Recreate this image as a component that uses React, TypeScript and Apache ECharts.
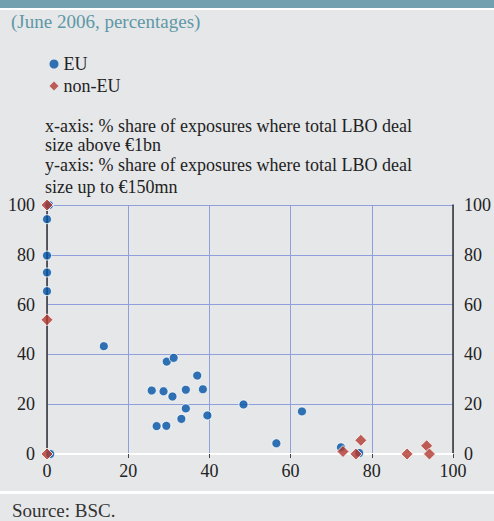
import React, { useEffect, useRef } from "react";
import * as echarts from "echarts";

const euPoints: [number, number][] = [
  [0.5, 100], [0, 94.3], [0, 79.7], [0, 72.9], [0, 65.4], [0.8, 0],
  [14.0, 43.3], [29.5, 37.1], [31.2, 38.6], [37.0, 31.5], [25.8, 25.5],
  [28.7, 25.2], [34.2, 25.8], [38.4, 26.0], [30.9, 23.1], [34.2, 18.3],
  [39.5, 15.5], [33.1, 14.1], [27.0, 11.2], [29.4, 11.3], [48.4, 19.9],
  [62.8, 17.1], [56.5, 4.3], [72.4, 2.7], [76.9, 0.4],
];
const nonEuPoints: [number, number][] = [
  [0, 100], [0, 53.9], [0, 0], [72.9, 1.0], [76.1, 0], [77.3, 5.5],
  [88.7, 0], [93.5, 3.3], [94.2, 0],
];
const seriesNames = ["EU", "non-EU"];
const subtitle = "(June 2006, percentages)";
const noteLines = [
  "x-axis: % share of exposures where total LBO deal",
  "size above €1bn",
  "y-axis: % share of exposures where total LBO deal",
  "size up to €150mn",
];
const source = "Source: BSC.";

const FONT = "Liberation Serif";

export default function App() {
  const ref = useRef<HTMLDivElement>(null);
  useEffect(() => {
    document.body.style.margin = "0";
    const chart = echarts.init(ref.current!, null, { renderer: "svg" });
    const noteY = [127, 146, 166, 188];
    chart.setOption({
      animation: false,
      backgroundColor: "#e6e7e9",
      textStyle: { fontFamily: FONT },
      grid: { left: 47, right: 39, top: 205, bottom: 67, containLabel: false },
      legend: {
        orient: "vertical",
        left: 44.5,
        top: 50,
        itemWidth: 9,
        itemHeight: 9,
        itemGap: 4,
        textStyle: { fontFamily: FONT, fontSize: 18, color: "#222" },
        data: [
          { name: seriesNames[0], icon: "circle", itemStyle: { borderWidth: 0 } },
          { name: seriesNames[1], icon: "diamond", itemStyle: { borderWidth: 0 } },
        ],
      },
      xAxis: {
        type: "value",
        min: 0,
        max: 100,
        interval: 20,
        axisLine: { show: true, lineStyle: { color: "#ffffff", width: 2 } },
        axisTick: { show: true, length: 4, lineStyle: { color: "#444", width: 1 } },
        axisLabel: { fontFamily: FONT, fontSize: 18, color: "#222", margin: 8 },
        splitLine: { show: true, lineStyle: { color: "#8f9fdb", width: 1 } },
      },
      yAxis: [
        {
          type: "value",
          min: 0,
          max: 100,
          interval: 20,
          position: "left",
          axisLine: { show: true, lineStyle: { color: "#333", width: 1.5 } },
          axisTick: { show: false },
          axisLabel: { fontFamily: FONT, fontSize: 18, color: "#222", margin: 12 },
          splitLine: { show: true, lineStyle: { color: "#8f9fdb", width: 1 } },
        },
        {
          type: "value",
          min: 0,
          max: 100,
          interval: 20,
          position: "right",
          axisLine: { show: true, lineStyle: { color: "#333", width: 1.5 } },
          axisTick: { show: false },
          axisLabel: { fontFamily: FONT, fontSize: 18, color: "#222", margin: 11 },
          splitLine: { show: false },
        },
      ],
      series: [
        {
          name: seriesNames[0],
          type: "scatter",
          symbol: "circle",
          symbolSize: 9,
          itemStyle: { color: "#0052a3", borderColor: "#ffffff", borderWidth: 1 },
          data: euPoints,
          z: 3,
        },
        {
          name: seriesNames[1],
          type: "scatter",
          symbol: "diamond",
          symbolSize: 12,
          itemStyle: { color: "#b23a2f", borderColor: "#ffffff", borderWidth: 1 },
          data: nonEuPoints,
          z: 4,
        },
      ],
      graphic: [
        { type: "rect", left: 0, top: 0, shape: { width: 494, height: 8 }, style: { fill: "#72a0ae" }, z: 10 },
        { type: "rect", left: 0, top: 8, shape: { width: 494, height: 2 }, style: { fill: "#ffffff" }, z: 10 },
        { type: "rect", left: 0, top: 491, shape: { width: 494, height: 3 }, style: { fill: "#ffffff" }, z: 10 },
        {
          type: "text",
          left: 11,
          top: 12,
          style: { text: subtitle, fontFamily: FONT, fontSize: 19, fill: "#5e98a6" },
        },
        ...noteLines.map((t, i) => ({
          type: "text",
          left: 45,
          top: noteY[i] - 10,
          style: { text: t, fontFamily: FONT, fontSize: 18, fill: "#222" },
        })),
        {
          type: "text",
          left: 12,
          top: 501,
          style: { text: source, fontFamily: FONT, fontSize: 19, fill: "#333" },
        },
      ],
    });
    return () => chart.dispose();
  }, []);
  return <div ref={ref} style={{ width: 494, height: 521 }} />;
}
